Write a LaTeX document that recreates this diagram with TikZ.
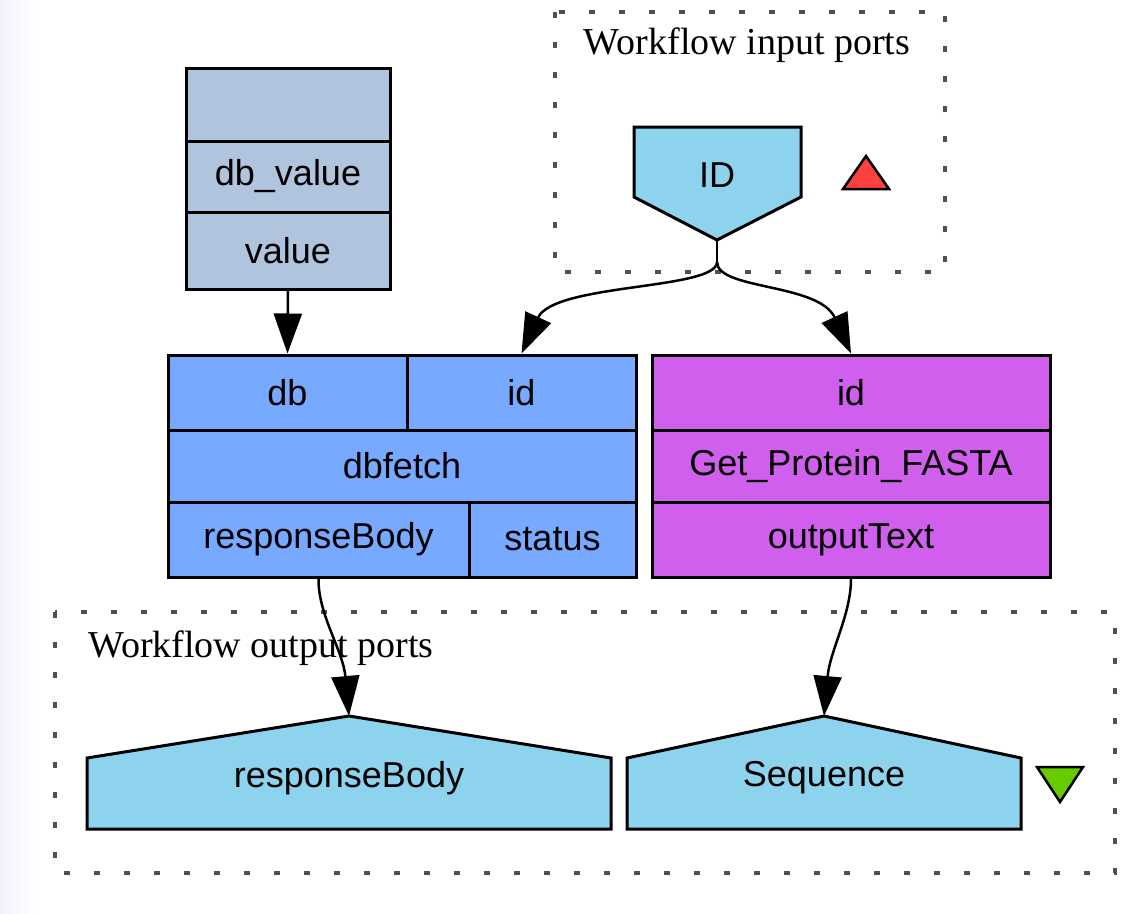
\documentclass[tikz,border=0pt]{standalone}
\usepackage{fontspec}
\setmainfont{Liberation Serif}
\newfontfamily\portfont{Liberation Sans}
\usepackage{tikz}
\usetikzlibrary{arrows.meta,positioning,calc}
\definecolor{steel}{HTML}{B0C4DE}
\definecolor{fetchblue}{HTML}{77AAFF}
\definecolor{orchid}{HTML}{D15FEE}
\definecolor{portblue}{HTML}{8DD3EE}
\definecolor{dotgray}{HTML}{505050}
\definecolor{inred}{HTML}{FF4040}
\definecolor{outgreen}{HTML}{66CC00}

\begin{document}
\begin{tikzpicture}[x=1pt,y=-1pt,
    cell/.style={draw,line width=3pt,inner sep=0pt,font=\portfont\fontsize{36}{40}\selectfont},
    portlabel/.style={inner sep=0pt,font=\portfont\fontsize{36}{40}\selectfont},
    portshape/.style={draw,line width=3pt,fill=portblue,line join=miter},
    group/.style={draw=dotgray,line width=4pt,dash pattern=on 6pt off 24pt},
    grouplabel/.style={inner sep=0pt,font=\fontsize{38}{42}\selectfont},
    marker/.style={draw,line width=2.5pt,line join=miter},
    link/.style={line width=2.5pt,-{Triangle[length=40pt,width=28pt]}}]
    \useasboundingbox[fill=white] (0,0) rectangle (1140,913);
    \shade[left color=blue!5,right color=white] (0,0) rectangle (35,913);

    \draw[group] (555,12) rectangle (945,272);
    \node[grouplabel] (inlabel) at (747,45) {Workflow input ports};
    \draw[group] (55,612) rectangle (1115,873);
    \node[grouplabel,anchor=west] (outlabel) at (88,648) {Workflow output ports};

    \node[cell,fill=steel,minimum width=204,minimum height=73] (valtop) at (288,104.5) {};
    \node[cell,fill=steel,minimum width=204,minimum height=71] (valname) at (288,176.5) {db\_value};
    \node[cell,fill=steel,minimum width=204,minimum height=77] (valout) at (288,250.5) {value};

    \node[cell,fill=fetchblue,minimum width=239,minimum height=75] (fetchdb) at (287.5,392.5) {db};
    \node[cell,fill=fetchblue,minimum width=229,minimum height=75] (fetchid) at (521.5,392.5) {id};
    \node[cell,fill=fetchblue,minimum width=468,minimum height=72] (fetchname) at (402,466) {dbfetch};
    \node[cell,fill=fetchblue,minimum width=301,minimum height=75] (fetchbody) at (318.5,539.5) {responseBody};
    \node[cell,fill=fetchblue,minimum width=167,minimum height=75] (fetchstatus) at (552.5,539.5) {status};

    \node[cell,fill=orchid,minimum width=398,minimum height=75] (fastaid) at (851,392.5) {id};
    \node[cell,fill=orchid,minimum width=398,minimum height=72] (fastaname) at (851,466) {Get\_Protein\_FASTA};
    \node[cell,fill=orchid,minimum width=398,minimum height=75] (fastaout) at (851,539.5) {outputText};

    \draw[portshape] (634,127) -- (801,127) -- (801,197) -- (717,240) -- (634,197) -- cycle;
    \node[portlabel] (idport) at (717,175) {ID};
    \coordinate (idtip) at (717,240);
    \coordinate (idsplit) at (717,262);
    \draw[marker,fill=inred] (843,189) -- (866,156) -- (889,189) -- cycle;

    \draw[portshape] (87,829) -- (87,758) -- (349,716) -- (611,758) -- (611,829) -- cycle;
    \node[portlabel] (bodyport) at (349,778) {responseBody};
    \coordinate (bodytip) at (349,716);
    \draw[portshape] (627,829) -- (627,758) -- (824,716) -- (1021,758) -- (1021,829) -- cycle;
    \node[portlabel] (seqport) at (824,778) {Sequence};
    \coordinate (seqtip) at (824,716);
    \draw[marker,fill=outgreen] (1037,767) -- (1083,767) -- (1060,802) -- cycle;

    \draw[link] (valout.south) -- (fetchdb.north);
    \draw[line width=2.5pt] (idtip) -- (idsplit);
    \draw[link] (idsplit) .. controls (717,290) and (554,283) .. (fetchid.north);
    \draw[link] (idsplit) .. controls (717,290) and (819,283) .. (fastaid.north);
    \draw[link] (fetchbody.south) .. controls (318,615) and (343,650) .. (bodytip);
    \draw[link] (fastaout.south) .. controls (851,615) and (830,650) .. (seqtip);
\end{tikzpicture}
\end{document}
